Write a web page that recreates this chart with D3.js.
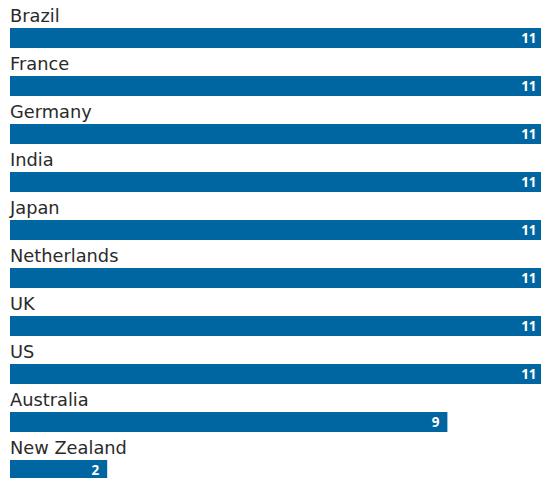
<!DOCTYPE html>
<html>
<head>
<meta charset="utf-8">
<script src="https://cdn.jsdelivr.net/npm/d3@7"></script>
<style>
  html, body { margin: 0; padding: 0; background: #fff; }
  svg { display: block; }
</style>
</head>
<body>
<svg id="chart" width="541" height="478"></svg>
<script>
const countries = ["Brazil", "France", "Germany", "India", "Japan", "Netherlands", "UK", "US", "Australia", "New Zealand"];
const counts = [11, 11, 11, 11, 11, 11, 11, 11, 9, 2];

const svg = d3.select("#chart");
const left = 10;
const rowStep = 48;
const barTop = 28;
const barH = 20;

const x = d3.scaleLinear().domain([0, 11]).range([left, left + 11 * 48.6]);
const y = d3.scaleBand().domain(countries).range([0, rowStep * countries.length]).paddingInner(0).paddingOuter(0);

const rows = svg.selectAll("g.row")
  .data(countries.map((c, i) => ({ country: c, value: counts[i] })))
  .join("g")
  .attr("class", "row")
  .attr("transform", d => `translate(0,${y(d.country)})`);

// country name above each bar
rows.append("text")
  .attr("x", left)
  .attr("y", 22)
  .attr("font-family", "'Century Gothic', 'DejaVu Sans', sans-serif")
  .attr("font-size", 17.8)
  .attr("fill", "#2a2a2a")
  .text(d => d.country);

rows.append("rect")
  .attr("x", x(0))
  .attr("y", barTop)
  .attr("width", d => x(d.value) - x(0))
  .attr("height", barH)
  .attr("fill", "#0066a2");

// value inside the bar end
rows.append("text")
  .attr("x", d => x(d.value) - 8)
  .attr("y", barTop + 15)
  .attr("text-anchor", "end")
  .attr("font-family", "'Open Sans', sans-serif")
  .attr("font-weight", "bold")
  .attr("font-size", 13.5)
  .attr("fill", "#fff")
  .text(d => d.value);
</script>
</body>
</html>
